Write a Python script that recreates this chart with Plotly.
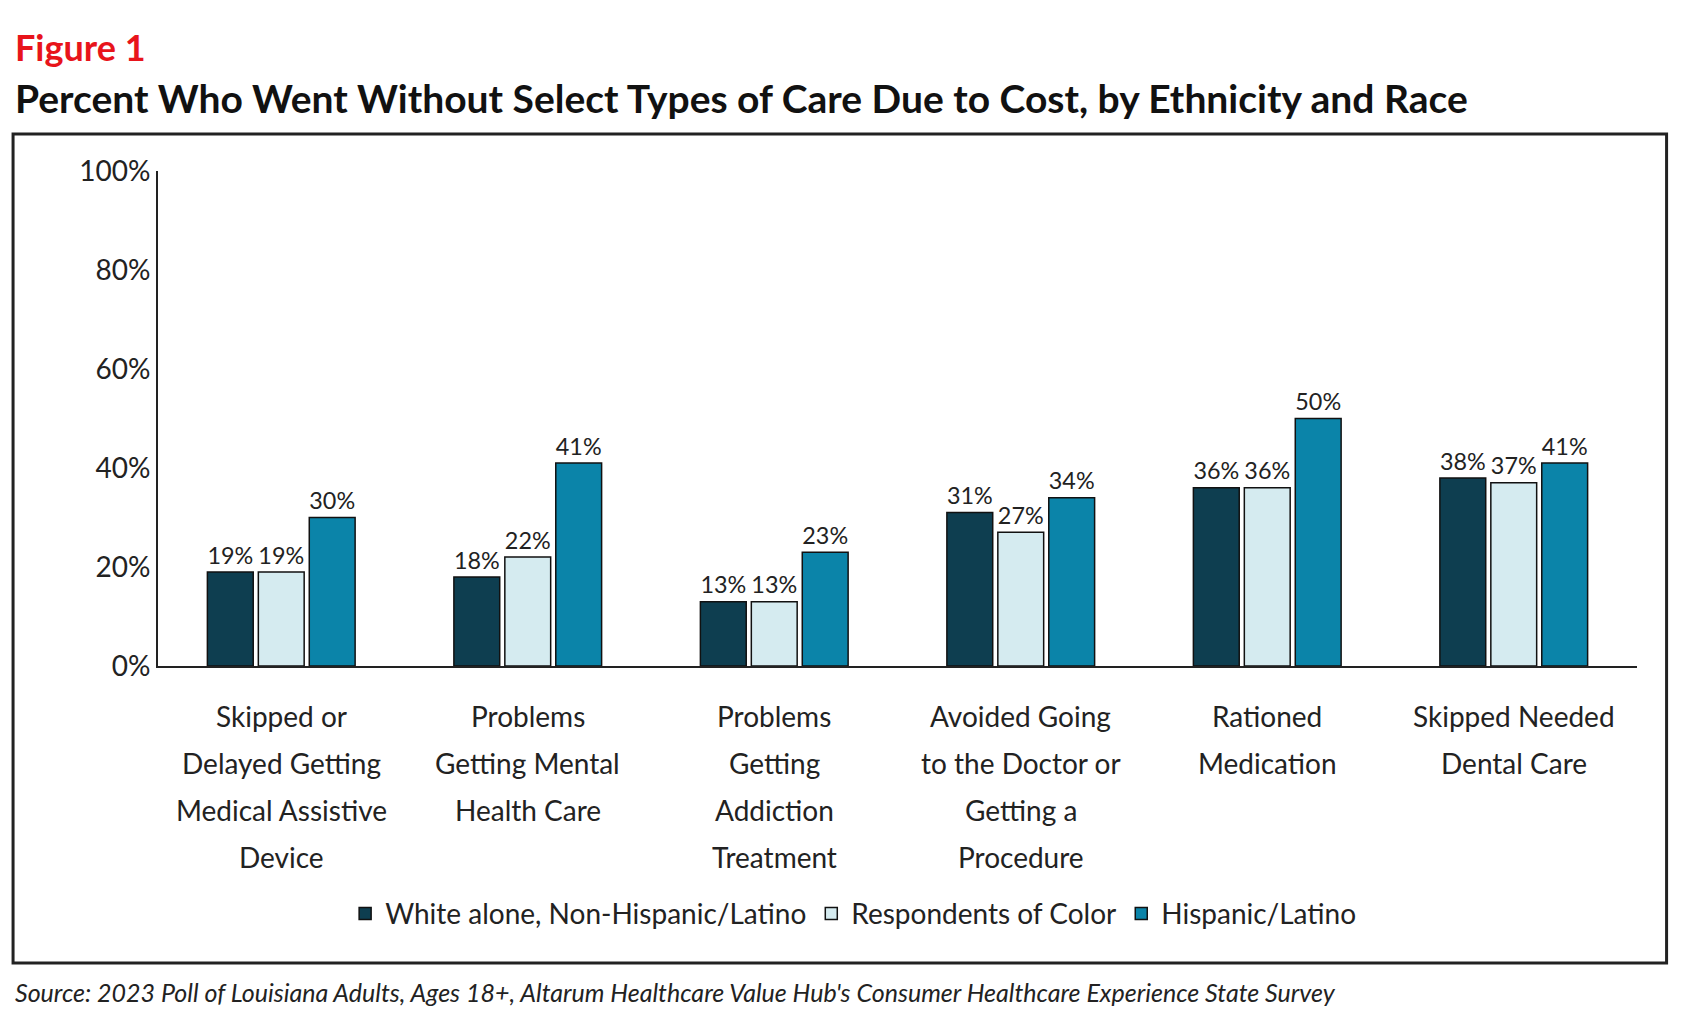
import plotly.graph_objects as go

categories = ["Skipped or Delayed Getting Medical Assistive Device",
              "Problems Getting Mental Health Care",
              "Problems Getting Addiction Treatment",
              "Avoided Going to the Doctor or Getting a Procedure",
              "Rationed Medication",
              "Skipped Needed Dental Care"]
category_lines = [["Skipped or", "Delayed Getting", "Medical Assistive", "Device"],
                  ["Problems", "Getting Mental", "Health Care"],
                  ["Problems", "Getting", "Addiction", "Treatment"],
                  ["Avoided Going", "to the Doctor or", "Getting a", "Procedure"],
                  ["Rationed", "Medication"],
                  ["Skipped Needed", "Dental Care"]]
white = [19, 18, 13, 31, 36, 38]
color_resp = [19, 22, 13, 27, 36, 37]
hispanic = [30, 41, 23, 34, 50, 41]
series = [("White alone, Non-Hispanic/Latino", white, "#0e3e50"),
          ("Respondents of Color", color_resp, "#d5ebf0"),
          ("Hispanic/Latino", hispanic, "#0b84a9")]

fig = go.Figure()
for name, vals, col in series:
    fig.add_trace(go.Bar(x=categories, y=vals, name=name, marker_color=col,
                         marker_line=dict(color="#111", width=1.5),
                         text=[f"{v}%" for v in vals], textposition="outside",
                         textfont=dict(size=26, color="#222"), cliponaxis=False))

fig.update_layout(
    width=1687, height=1030, barmode="group", bargap=0.38, bargroupgap=0.1,
    plot_bgcolor="white", paper_bgcolor="white",
    font=dict(family="Lato", color="#222"),
    margin=dict(l=150, r=58, t=163, b=372),
    legend=dict(orientation="h", x=0.47, xanchor="center", y=-0.45, yanchor="top",
                font=dict(size=28), itemwidth=30, traceorder="normal"),
)
fig.update_xaxes(showline=True, linecolor="#222", linewidth=2, ticks="", showticklabels=False)
fig.update_yaxes(range=[0, 100], dtick=20, ticksuffix="%", showgrid=False,
                 showline=True, linecolor="#222", linewidth=2, zeroline=False,
                 tickfont=dict(size=28, color="#222"))

# category labels with wider line spacing
for cat, lines in zip(categories, category_lines):
    for i, line in enumerate(lines):
        fig.add_annotation(text=line, x=cat, xref="x", y=0, yref="paper", yanchor="middle",
                           yshift=-50 - 47 * i, showarrow=False,
                           font=dict(size=28, color="#222"))

fig.add_annotation(text="<b>Figure 1</b>", xref="paper", yref="paper", x=-0.098, y=1.0,
                   xanchor="left", yanchor="bottom", yshift=100, showarrow=False,
                   font=dict(size=36, color="#e8141b"))
fig.add_annotation(text="<b>Percent Who Went Without Select Types of Care Due to Cost, by Ethnicity and Race</b>",
                   xref="paper", yref="paper", x=-0.098, y=1.0, xanchor="left", yanchor="bottom",
                   yshift=48, showarrow=False, font=dict(size=39, color="#111"))
fig.add_annotation(text="<i>Source: 2023 Poll of Louisiana Adults, Ages 18+, Altarum Healthcare Value Hub's Consumer Healthcare Experience State Survey</i>",
                   xref="paper", yref="paper", x=-0.098, y=-0.625, xanchor="left", yanchor="top",
                   showarrow=False, font=dict(size=25, color="#222"))
# frame around the chart
fig.add_shape(type="rect", xref="paper", yref="paper", x0=-0.098, x1=1.02, y0=-0.6, y1=1.075,
              line=dict(color="#222", width=3))
fig.write_html("out.html")
